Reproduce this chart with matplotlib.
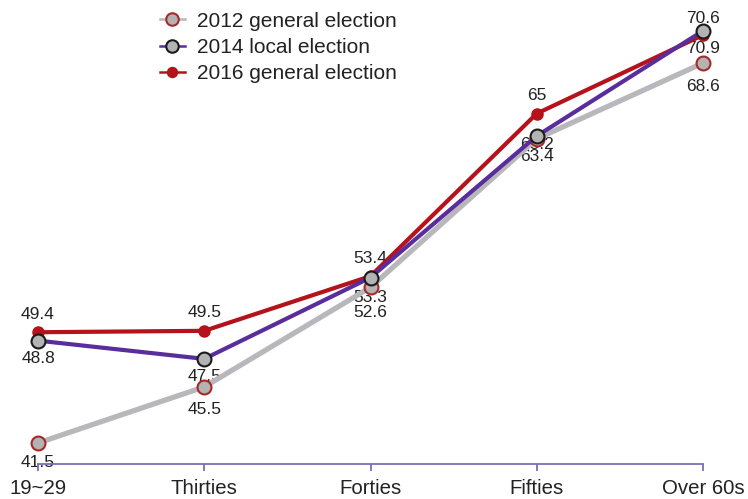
import matplotlib
matplotlib.use('Agg')
import matplotlib.pyplot as plt
from matplotlib.lines import Line2D

plt.rcParams['font.family'] = ['Liberation Sans', 'DejaVu Sans']

# Data.
AGE_GROUPS = ['19~29', 'Thirties', 'Forties', 'Fifties', 'Over 60s']
VOTE_2012 = [41.5, 45.5, 52.6, 63.2, 68.6]
VOTE_2014 = [48.8, 47.5, 53.3, 63.4, 70.9]
VOTE_2016 = [49.4, 49.5, 53.4, 65.0, 70.6]

TEXT_COLOR = '#222222'
AXIS_COLOR = '#7d6cb8'

# Label offsets (in points) for each series' value labels.
OFFSETS_2012 = [-14, -16, -18, -4, -17]
OFFSETS_2014 = [-13, -13, -14, -15, -13]
OFFSETS_2016 = [13, 13, 13, 13, 12]

fig = plt.figure(figsize=(7.48, 4.99), dpi=100)
ax = fig.add_axes([38 / 748, 35 / 499, 665 / 748, 464 / 499])

x = range(len(AGE_GROUPS))

series = [
    ('2012 general election', VOTE_2012, OFFSETS_2012,
     dict(color='#b8b8bc', lw=3.8, marker='o', ms=10,
          mfc='#b3b3b3', mec='#a82828', mew=1.5, zorder=3)),
    ('2014 local election', VOTE_2014, OFFSETS_2014,
     dict(color='#5a2d9c', lw=3.0, marker='o', ms=10,
          mfc='#b3b3b3', mec='#1a1a1a', mew=1.5, zorder=4)),
    ('2016 general election', VOTE_2016, OFFSETS_2016,
     dict(color='#b5121b', lw=3.0, marker='o', ms=8,
          mfc='#b5121b', mec='#b5121b', mew=1, zorder=2)),
]

handles = []
for name, values, offsets, style in series:
    ax.plot(x, values, clip_on=False, **style)
    proxy = dict(style)
    proxy['lw'] = 1.8
    proxy.pop('zorder')
    handles.append(Line2D([], [], label=name, **proxy))
    for xi, v, off in zip(x, values, offsets):
        ax.annotate(f'{v:g}', (xi, v), xytext=(0, off),
                    textcoords='offset points', ha='center', va='center',
                    fontsize=12.5, color=TEXT_COLOR, zorder=1)

ax.set_xlim(0, 4)
ax.set_ylim(40, 73.1)
ax.set_xticks(list(x))
ax.set_xticklabels(AGE_GROUPS, fontsize=14.7, color=TEXT_COLOR)
ax.set_yticks([])

for side in ['left', 'top', 'right']:
    ax.spines[side].set_visible(False)
ax.spines['bottom'].set_color(AXIS_COLOR)
ax.spines['bottom'].set_linewidth(1.3)
ax.tick_params(axis='x', direction='out', length=5, width=1.3,
               color=AXIS_COLOR, pad=6)
ax.patch.set_visible(False)

leg = ax.legend(handles=handles, loc='upper left',
                bbox_to_anchor=(103 / 665, 1.015), frameon=False,
                fontsize=15, handlelength=1.2, handletextpad=0.6,
                labelspacing=0.35, markerscale=0.9)
for t in leg.get_texts():
    t.set_color(TEXT_COLOR)

fig.savefig('out.png', dpi=100)
